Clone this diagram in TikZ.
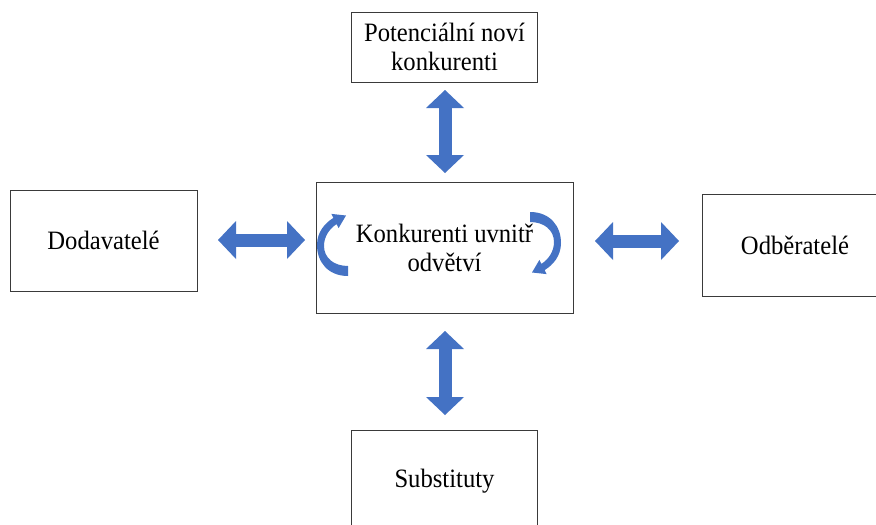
\documentclass[tikz,border=0pt]{standalone}
\usepackage{fontspec}
\setmainfont[FakeStretch=0.93]{Liberation Serif}
\usetikzlibrary{arrows.meta}
\definecolor{arrowblue}{HTML}{4472C4}
\definecolor{boxline}{HTML}{3A3A3A}
\tikzset{
  box/.style={draw=boxline, line width=0.9pt, fill=white, align=center,
    font=\fontsize{26.5}{29}\selectfont, inner sep=0pt},
  blockarrow/.style={draw=arrowblue, line width=13pt,
    {Triangle[width=38pt,length=18pt,line width=0pt]}-{Triangle[width=38pt,length=18pt,line width=0pt]}},
  pics/curvedarrow/.style={code={
    \fill[arrowblue] (0,5) .. controls (-20,5) and (-31,-9) .. (-31,-26)
      .. controls (-31,-39) and (-23,-48) .. (-14.6,-53.1)
      -- (-16.6,-57.1) -- (-2,-55.5) -- (-9.4,-42.9) -- (-11.4,-46.9)
      .. controls (-19,-42) and (-24,-34) .. (-24,-25)
      .. controls (-24,-13) and (-14,-5) .. (0,-5) -- cycle;}}
}
\begin{document}
\begin{tikzpicture}[x=1pt,y=-1pt]
\clip (0,0) rectangle (876,525);
\fill[white] (0,0) rectangle (876,525);
\node[box, minimum width=186pt, minimum height=70pt] (top) at (444.5,47) {Potenciální noví\\konkurenti};
\node[box, minimum width=257pt, minimum height=131pt] (center) at (444.5,247.5) {Konkurenti uvnitř\\odvětví};
\node[box, minimum width=187pt, minimum height=101pt] (left) at (103.5,240.5) {Dodavatelé};
\node[box, minimum width=186pt, minimum height=102pt] (right) at (795,245) {Odběratelé};
\node[box, minimum width=186pt, minimum height=102pt] (bottom) at (444.5,481) {Substituty};
\coordinate (ta1) at (445,90);
\coordinate (ta2) at (445,173);
\coordinate (ba1) at (445,331);
\coordinate (ba2) at (445,415);
\coordinate (la1) at (218,240);
\coordinate (la2) at (305,240);
\coordinate (ra1) at (595,241);
\coordinate (ra2) at (679,241);
\draw[blockarrow] (ta1) -- (ta2);
\draw[blockarrow] (ba1) -- (ba2);
\draw[blockarrow] (la1) -- (la2);
\draw[blockarrow] (ra1) -- (ra2);
\pic at (348,271) {curvedarrow};
\pic[rotate=180] at (530,217) {curvedarrow};
\end{tikzpicture}
\end{document}
